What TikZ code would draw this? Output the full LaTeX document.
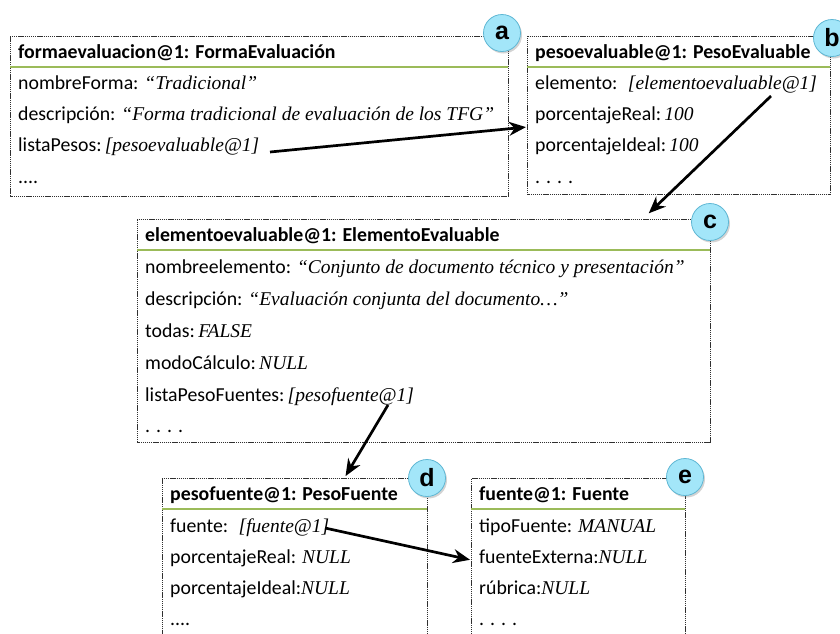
\documentclass[tikz,border=0pt]{standalone}
\usepackage{fontspec}
\setsansfont{Carlito}
\newfontfamily\tagfont{Liberation Sans}
\newfontfamily\valfont{Liberation Serif}
\usetikzlibrary{shadows,arrows.meta}
\definecolor{sepgreen}{HTML}{9BBB59}
\definecolor{tagfill}{HTML}{A3E6F9}
\definecolor{tagline}{HTML}{5FB7D4}
\definecolor{boxline}{HTML}{303030}
\tikzset{
  objbox/.style={draw=boxline, line width=0.7pt, dash pattern=on 1.2pt off 0.7pt,
    rectangle, anchor=north west, inner sep=0pt},
  sep/.style={draw=sepgreen, line width=2pt},
  head/.style={anchor=base west, inner sep=0pt, font=\sffamily\bfseries\fontsize{19.8}{21}\selectfont},
  attr/.style={anchor=base west, inner sep=0pt, font=\sffamily\fontsize{19.8}{21}\selectfont},
  tag/.style={circle, fill=tagfill, draw=tagline, line width=0.8pt, minimum size=37pt,
    inner sep=0pt, font=\tagfont\bfseries\fontsize{25}{25}\selectfont,
    drop shadow={shadow xshift=1.5pt, shadow yshift=-2pt, opacity=0.35}},
  ref/.style={line width=2.7pt, -{Stealth[length=17pt,width=14pt]}, shorten >=1pt}
}
\newcommand{\val}[1]{{\valfont\itshape\fontsize{19.5}{21}\selectfont #1}}
\begin{document}
\begin{tikzpicture}[x=1pt,y=-1pt]
\useasboundingbox (0,0) rectangle (840,633);
\clip (0,0) rectangle (840,633);

% object boxes
\node[objbox, minimum width=498pt, minimum height=160pt] (boxa) at (10,36) {};
\node[objbox, minimum width=303pt, minimum height=158pt] (boxb) at (527,36) {};
\node[objbox, minimum width=573pt, minimum height=223pt] (boxc) at (137,219) {};
\node[objbox, minimum width=265pt, minimum height=170pt] (boxd) at (162,478) {};
\node[objbox, minimum width=214pt, minimum height=170pt] (boxe) at (471,478) {};

% green separators below the headers
\draw[sep] (10,67) -- (508,67);
\draw[sep] (527,67) -- (830,67);
\draw[sep] (137,250) -- (710,250);
\draw[sep] (162,509) -- (427,509);
\draw[sep] (471,509) -- (685,509);

% box a
\node[head] (ha) at (18,58) {formaevaluacion@1: FormaEvaluación};
\node[attr] (a1) at (18,89) {nombreForma: \val{“Tradicional”}};
\node[attr] (a2) at (18,120) {descripción: \val{“Forma tradicional de evaluación de los TFG”}};
\node[attr] (a3) at (18,151) {listaPesos:\,\val{[pesoevaluable@1]}};
\node[attr] (a4) at (18,183) {....};

% box b
\node[head] (hb) at (535,58) {pesoevaluable@1: PesoEvaluable};
\node[attr] (b1) at (535,89) {elemento: \ \val{[elementoevaluable@1]}};
\node[attr] (b2) at (535,120) {porcentajeReal:\,\val{100}};
\node[attr] (b3) at (535,151) {porcentajeIdeal:\,\val{100}};
\node[attr] (b4) at (535,183) {. . . .};

% box c
\node[head] (hc) at (145,241) {elementoevaluable@1: ElementoEvaluable};
\node[attr] (c1) at (145,273) {nombreelemento: \val{“Conjunto de documento técnico y presentación”}};
\node[attr] (c2) at (145,305) {descripción: \val{“Evaluación conjunta del documento…”}};
\node[attr] (c3) at (145,337) {todas:\,\val{FALSE}};
\node[attr] (c4) at (145,369) {modoCálculo:\,\val{NULL}};
\node[attr] (c5) at (145,401) {listaPesoFuentes:\,\val{[pesofuente@1]}};
\node[attr] (c6) at (145,432) {. . . .};

% box d
\node[head] (hd) at (170,500) {pesofuente@1: PesoFuente};
\node[attr] (d1) at (170,532) {fuente: \ \val{[fuente@1]}};
\node[attr] (d2) at (170,563) {porcentajeReal: \val{NULL}};
\node[attr] (d3) at (170,594) {porcentajeIdeal:\val{NULL}};
\node[attr] (d4) at (170,625) {....};

% box e
\node[head] (he) at (479,500) {fuente@1: Fuente};
\node[attr] (e1) at (479,532) {tipoFuente: \val{MANUAL}};
\node[attr] (e2) at (479,563) {fuenteExterna:\val{NULL}};
\node[attr] (e3) at (479,594) {rúbrica:\val{NULL}};
\node[attr] (e4) at (479,625) {. . . .};

% reference arrows
\coordinate (ra) at (270,152);
\coordinate (rb) at (771,96);
\coordinate (rc) at (388,405);
\coordinate (rd) at (325,528);
\draw[ref] (ra) -- (boxb.west |- 0,127);
\draw[ref] (rb) -- (648,214);
\draw[ref] (rc) -- (345,477);
\draw[ref] (rd) -- (boxe.west |- 0,560);

% letter tags
\node[tag] (ta) at (502,33) {a};
\node[tag] (tb) at (832,38) {b};
\node[tag] (tc) at (710,222) {c};
\node[tag] (td) at (427,478) {d};
\node[tag] (te) at (685,477) {e};
\end{tikzpicture}
\end{document}
